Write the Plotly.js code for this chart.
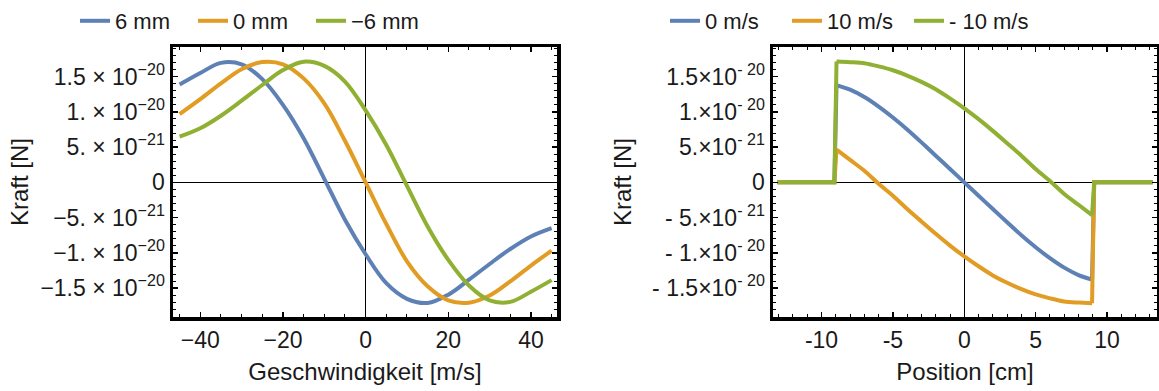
<!DOCTYPE html>
<html>
<head>
<meta charset="utf-8">
<script src="https://cdn.plot.ly/plotly-3.0.1.min.js"></script>
<style>html,body{margin:0;padding:0;background:#fff;}#chart{width:1159px;height:391px;}</style>
</head>
<body>
<div id="chart"></div>
<script>
// ---- Data (force values in units of 1e-20 N) ----
const velocity = [-45,-40,-35,-30,-25,-20,-15,-10,-5,0,5,10,15,20,25,30,35,40,45];
const force6mm = [1.387,1.551,1.695,1.675,1.464,1.10,0.626,0.05,-0.53,-1.02,-1.43,-1.652,-1.711,-1.593,-1.381,-1.158,-0.945,-0.767,-0.649];
const force0mm = [0.968,1.18,1.404,1.605,1.707,1.675,1.475,1.12,0.59,0,-0.59,-1.12,-1.475,-1.675,-1.707,-1.605,-1.404,-1.18,-0.968];
const forceM6mm = [0.649,0.767,0.945,1.158,1.381,1.593,1.711,1.652,1.43,1.02,0.53,-0.05,-0.626,-1.10,-1.464,-1.675,-1.695,-1.551,-1.387];
const leftNames = ["6 mm", "0 mm", "\u22126 mm"];

const position = [-13.1,-9.1,-8.95,-8,-7,-6,-5,-4,-3,-2,-1,0,1,2,3,4,5,6,7,8,8.95,9.1,13.2];
const force0ms = [0,0,1.38,1.315,1.21,1.075,0.92,0.75,0.567,0.378,0.19,0,-0.19,-0.378,-0.567,-0.75,-0.92,-1.075,-1.21,-1.315,-1.38,0,0];
const force10ms = [0,0,0.465,0.318,0.165,-0.02,-0.19,-0.378,-0.555,-0.73,-0.897,-1.05,-1.19,-1.32,-1.425,-1.515,-1.59,-1.645,-1.69,-1.705,-1.714,0,0];
const forceM10ms = [0,0,1.714,1.705,1.69,1.645,1.59,1.515,1.425,1.32,1.19,1.05,0.897,0.73,0.555,0.378,0.19,0.02,-0.165,-0.318,-0.465,0,0];
const rightNames = ["0 m/s", "10 m/s", "- 10 m/s"];

const yTickVals = [1.5, 1, 0.5, 0, -0.5, -1, -1.5];
const yTickTextLeft = ["1.5 \u00d7 10<sup>\u221220</sup>","1. \u00d7 10<sup>\u221220</sup>","5. \u00d7 10<sup>\u221221</sup>","0","\u22125. \u00d7 10<sup>\u221221</sup>","\u22121. \u00d7 10<sup>\u221220</sup>","\u22121.5 \u00d7 10<sup>\u221220</sup>"];
const yTickTextRight = ["1.5\u00d710<sup>- 20</sup>","1.\u00d710<sup>- 20</sup>","5.\u00d710<sup>- 21</sup>","0","- 5.\u00d710<sup>- 21</sup>","- 1.\u00d710<sup>- 20</sup>","- 1.5\u00d710<sup>- 20</sup>"];
const xTickValsLeft = [-40,-20,0,20,40];
const xTickTextLeft = ["\u221240","\u221220","0","20","40"];
const xTickValsRight = [-10,-5,0,5,10];
const xTickTextRight = ["-10","-5","0","5","10"];

const colors = ["#5e81b5", "#e19c24", "#8fb032"];

const traces = [];
[force6mm, force0mm, forceM6mm].forEach((y, i) => {
  traces.push({x: velocity, y: y, type: 'scatter', mode: 'lines', name: leftNames[i],
    line: {color: colors[i], width: 4, shape: 'spline', smoothing: 1},
    xaxis: 'x', yaxis: 'y', legend: 'legend', hoverinfo: 'skip'});
});
// right panel: smooth inner curve plus straight jump/flat segments
const nP = position.length;
[force0ms, force10ms, forceM10ms].forEach((y, i) => {
  traces.push({x: position.slice(2, nP - 2), y: y.slice(2, nP - 2), type: 'scatter', mode: 'lines',
    name: rightNames[i], legendgroup: 'r' + i,
    line: {color: colors[i], width: 4, shape: 'spline', smoothing: 0.8},
    xaxis: 'x2', yaxis: 'y2', legend: 'legend2', hoverinfo: 'skip'});
  traces.push({x: position.slice(0, 3).concat([null], position.slice(nP - 3)),
    y: y.slice(0, 3).concat([null], y.slice(nP - 3)), type: 'scatter', mode: 'lines',
    name: rightNames[i], legendgroup: 'r' + i, showlegend: false, connectgaps: false,
    line: {color: colors[i], width: 4},
    xaxis: 'x2', yaxis: 'y2', legend: 'legend2', hoverinfo: 'skip'});
});

const fam = 'Liberation Sans, Arial, sans-serif';
const tickFont = {family: fam, size: 23, color: '#1a1a1a'};
const titleFont = {family: fam, size: 24, color: '#1a1a1a'};
function frameAxis(extra) {
  return Object.assign({
    showline: true, linewidth: 3.5, linecolor: '#000', mirror: 'allticks',
    ticks: 'inside', ticklen: 5, tickwidth: 1.5, tickcolor: '#000',
    showgrid: false, zeroline: true, zerolinecolor: '#000', zerolinewidth: 1,
    tickfont: tickFont, tickmode: 'array', fixedrange: true
  }, extra);
}

const layout = {
  width: 1159, height: 391,
  margin: {l: 0, r: 0, t: 0, b: 0},
  paper_bgcolor: '#fff', plot_bgcolor: '#fff',
  font: tickFont,
  showlegend: true,
  xaxis: frameAxis({domain: [173/1159, 557/1159], range: [-46.6, 46.3], anchor: 'y',
    tickvals: xTickValsLeft, ticktext: xTickTextLeft,
    minor: {ticks: 'inside', ticklen: 3, tickwidth: 1, tickcolor: '#000', dtick: 5, tick0: 0},
    title: {text: 'Geschwindigkeit [m/s]', font: titleFont, standoff: 12}}),
  yaxis: frameAxis({domain: [1-317/391, 1-47/391], range: [-1.91, 1.92], anchor: 'x',
    tickvals: yTickVals, ticktext: yTickTextLeft,
    minor: {ticks: 'inside', ticklen: 3, tickwidth: 1, tickcolor: '#000', dtick: 0.1, tick0: 0},
    title: {text: 'Kraft [N]', font: titleFont, standoff: 6}}),
  xaxis2: frameAxis({domain: [773/1159, 1157/1159], range: [-13.4, 13.5], anchor: 'y2',
    tickvals: xTickValsRight, ticktext: xTickTextRight,
    minor: {ticks: 'inside', ticklen: 3, tickwidth: 1, tickcolor: '#000', dtick: 1, tick0: 0},
    title: {text: 'Position [cm]', font: titleFont, standoff: 12}}),
  yaxis2: frameAxis({domain: [1-317/391, 1-47/391], range: [-1.91, 1.92], anchor: 'x2',
    tickvals: yTickVals, ticktext: yTickTextRight,
    minor: {ticks: 'inside', ticklen: 3, tickwidth: 1, tickcolor: '#000', dtick: 0.1, tick0: 0},
    title: {text: 'Kraft [N]', font: titleFont, standoff: 14}}),
  legend: {orientation: 'h', x: 252/1159, xanchor: 'center', y: 1.0, yanchor: 'top',
    entrywidth: 73, entrywidthmode: 'pixels',
    font: {family: fam, size: 22, color: '#1a1a1a'}, bgcolor: 'rgba(0,0,0,0)'},
  legend2: {orientation: 'h', x: 848/1159, xanchor: 'center', y: 1.0, yanchor: 'top',
    entrywidth: 77, entrywidthmode: 'pixels',
    font: {family: fam, size: 22, color: '#1a1a1a'}, bgcolor: 'rgba(0,0,0,0)'}
};

Plotly.newPlot('chart', traces, layout, {staticPlot: true, displayModeBar: false});
</script>
</body>
</html>
